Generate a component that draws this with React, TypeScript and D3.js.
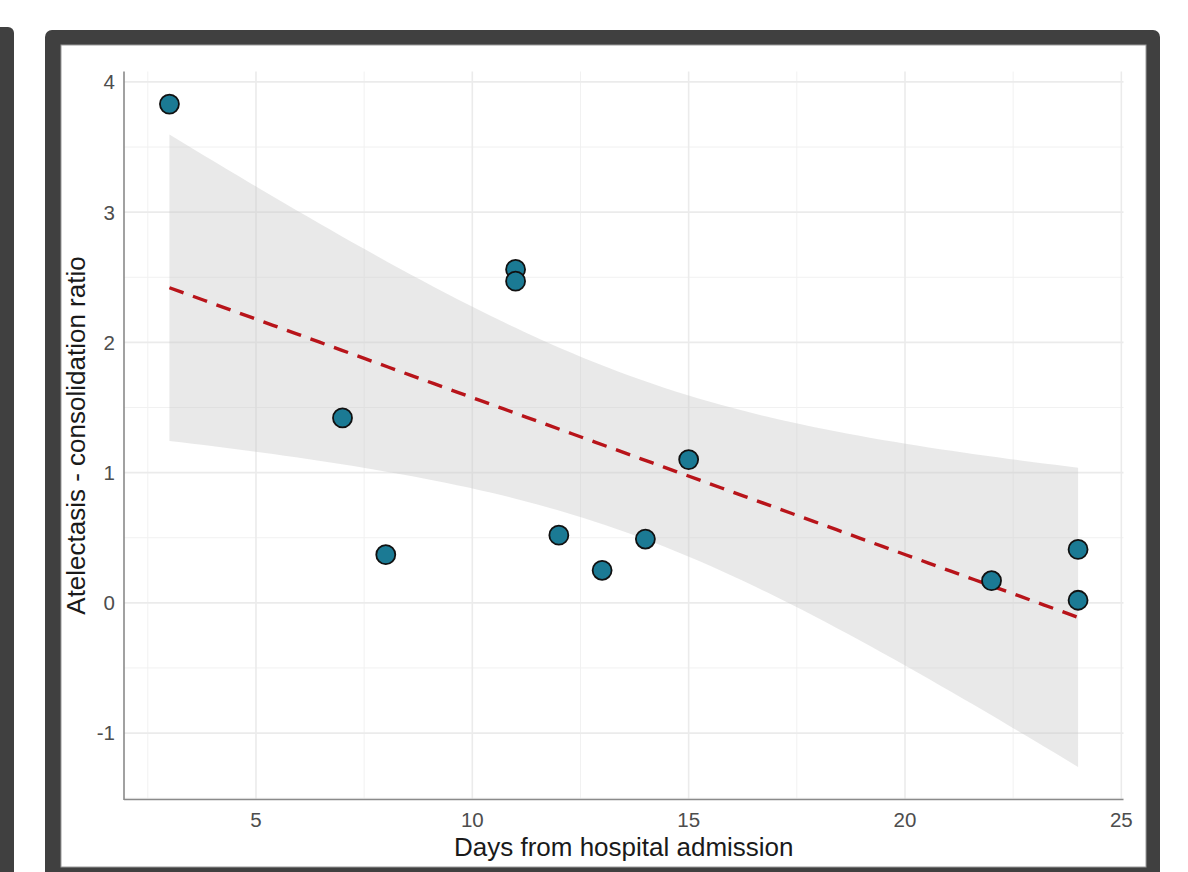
import React from "react";
import * as d3 from "d3";

const days = [3, 7, 8, 11, 11, 12, 13, 14, 15, 22, 24, 24];
const ratio = [3.83, 1.42, 0.37, 2.56, 2.47, 0.52, 0.25, 0.49, 1.1, 0.17, 0.41, 0.02];
const xMajor = [5, 10, 15, 20, 25];
const xMinor = [2.5, 7.5, 12.5, 17.5, 22.5];
const yMajor = [-1, 0, 1, 2, 3, 4];
const yMinor = [-1.5, -0.5, 0.5, 1.5, 2.5, 3.5];
const T_CRIT = 2.228; // t(0.975, df=10)

const W = 1188;
const H = 872;

export default function App() {
  const x = d3.scaleLinear().domain([1.95, 25.05]).range([124, 1123.5]);
  const y = d3.scaleLinear().domain([-1.51, 4.08]).range([799.5, 71.5]);

  // linear fit
  const n = days.length;
  const mx = d3.mean(days) as number;
  const my = d3.mean(ratio) as number;
  let sxx = 0, sxy = 0;
  days.forEach((d, i) => {
    sxx += (d - mx) ** 2;
    sxy += (d - mx) * (ratio[i] - my);
  });
  const slope = sxy / sxx;
  const icpt = my - slope * mx;
  let rss = 0;
  days.forEach((d, i) => {
    rss += (ratio[i] - (icpt + slope * d)) ** 2;
  });
  const s = Math.sqrt(rss / (n - 2));
  const xmin = d3.min(days) as number;
  const xmax = d3.max(days) as number;
  const grid = d3.range(80).map((i) => xmin + ((xmax - xmin) * i) / 79);
  const band = grid.map((g) => {
    const fit = icpt + slope * g;
    const se = s * Math.sqrt(1 / n + (g - mx) ** 2 / sxx);
    return { g, fit, lo: fit - T_CRIT * se, hi: fit + T_CRIT * se };
  });
  const area = d3
    .area<any>()
    .x((d) => x(d.g))
    .y0((d) => y(d.lo))
    .y1((d) => y(d.hi));
  const line = d3
    .line<any>()
    .x((d) => x(d.g))
    .y((d) => y(d.fit));

  const [x0, x1] = x.range();
  const [y0, y1] = y.range();
  const font = "'Liberation Sans', Arial, Helvetica, sans-serif";

  return (
    <svg
      width={W}
      height={H}
      style={{ position: "absolute", left: 0, top: 0, background: "#fff" }}
    >
      {/* frames */}
      <rect x={-20} y={27} width={34} height={880} rx={6} fill="#404040" />
      <rect x={45} y={30} width={1115} height={870} rx={7} fill="#404040" />
      <rect x={61} y={45} width={1085} height={822} fill="#ffffff" stroke="#9a9a9a" strokeWidth={1} />

      {/* grid */}
      <g>
        {xMinor.map((v) => (
          <line key={"xm" + v} x1={x(v)} x2={x(v)} y1={y0} y2={y1} stroke="#f1f1f1" strokeWidth={1} />
        ))}
        {yMinor.map((v) => (
          <line key={"ym" + v} x1={x0} x2={x1} y1={y(v)} y2={y(v)} stroke="#f1f1f1" strokeWidth={1} />
        ))}
        {xMajor.map((v) => (
          <line key={"xM" + v} x1={x(v)} x2={x(v)} y1={y0} y2={y1} stroke="#ebebeb" strokeWidth={1.6} />
        ))}
        {yMajor.map((v) => (
          <line key={"yM" + v} x1={x0} x2={x1} y1={y(v)} y2={y(v)} stroke="#ebebeb" strokeWidth={1.6} />
        ))}
      </g>

      {/* confidence band */}
      <path d={area(band) as string} fill="#c8c8c8" fillOpacity={0.4} />
      {/* regression line */}
      <path
        d={line(band) as string}
        fill="none"
        stroke="#b8141a"
        strokeWidth={3.4}
        strokeDasharray="15 10"
      />

      {/* axes */}
      <line x1={x0} x2={x0} y1={y0 + 0.5} y2={y1} stroke="#8a8a8a" strokeWidth={1.6} />
      <line x1={x0} x2={x1} y1={y0} y2={y0} stroke="#8a8a8a" strokeWidth={1.6} />

      {/* points */}
      {days.map((d, i) => (
        <circle
          key={"p" + i}
          cx={x(d)}
          cy={y(ratio[i])}
          r={9.5}
          fill="#1b7a94"
          stroke="#111"
          strokeWidth={1.8}
        />
      ))}

      {/* tick labels */}
      {xMajor.map((v) => (
        <text
          key={"xt" + v}
          x={x(v)}
          y={827}
          textAnchor="middle"
          fontFamily={font}
          fontSize={20.5}
          fill="#4d4d4d"
        >
          {v}
        </text>
      ))}
      {yMajor.map((v) => (
        <text
          key={"yt" + v}
          x={115}
          y={y(v)}
          dy="0.36em"
          textAnchor="end"
          fontFamily={font}
          fontSize={20.5}
          fill="#4d4d4d"
        >
          {v}
        </text>
      ))}

      {/* axis titles */}
      <text
        x={(x0 + x1) / 2}
        y={856}
        textAnchor="middle"
        fontFamily={font}
        fontSize={26}
        fill="#1a1a1a"
      >
        Days from hospital admission
      </text>
      <text
        transform={`translate(85, ${(y0 + y1) / 2}) rotate(-90)`}
        textAnchor="middle"
        fontFamily={font}
        fontSize={26}
        fill="#1a1a1a"
      >
        Atelectasis - consolidation ratio
      </text>
    </svg>
  );
}
